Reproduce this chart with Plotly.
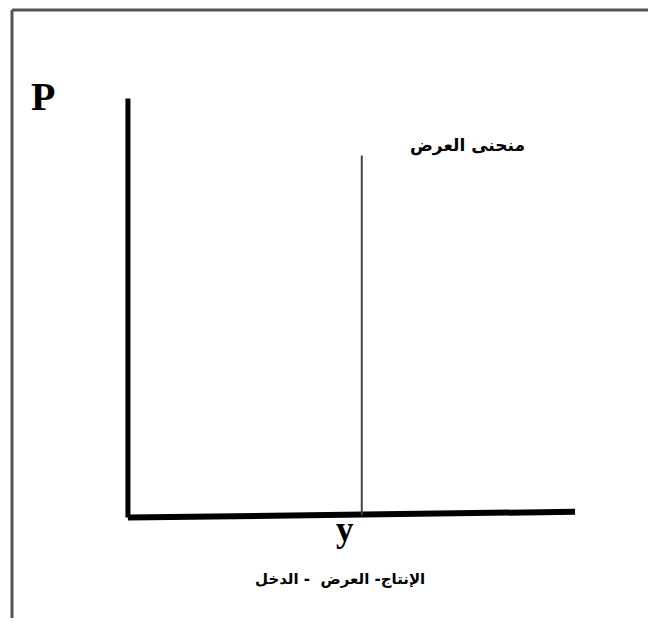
import plotly.graph_objects as go

# quantity / price in chart units (x: 0-10, y: 0-10)
price_axis_q = [0, 0]
price_axis_p = [0, 10]
qty_axis_q = [0, 10]
qty_axis_p = [0, 0.14]
supply_q = [5.23, 5.23]
supply_p = [0.07, 8.64]

supply_label = "منحنى العرض"
qty_label = "الإنتاج- العرض  - الدخل"
price_symbol = "P"
qty_symbol = "y"

# figure geometry (the page adds an 8px body margin on every side)
W, H = 640, 610
ML, MR, MT, MB = 111, 64, 82, 92
PAGE_OFF = 8


def paper(xp, yp):
    # page pixel -> paper coordinates
    fx = xp - PAGE_OFF
    fy = yp - PAGE_OFF
    return (fx - ML) / (W - ML - MR), (H - MB - fy) / (H - MT - MB)


fig = go.Figure()

# axes drawn as thick lines
fig.add_trace(go.Scatter(x=price_axis_q, y=price_axis_p, mode="lines",
                         line=dict(color="black", width=5), hoverinfo="skip"))
fig.add_trace(go.Scatter(x=qty_axis_q, y=qty_axis_p, mode="lines",
                         line=dict(color="black", width=6), hoverinfo="skip"))
# vertical supply curve
fig.add_trace(go.Scatter(x=supply_q, y=supply_p, mode="lines",
                         line=dict(color="#444", width=2), hoverinfo="skip"))

# outer frame (left + top edges only, like the cropped figure)
fx0, fy0 = paper(12, 10)
fx1, fy1 = paper(648, 618)
fig.add_shape(type="line", xref="paper", yref="paper",
              x0=fx0, x1=fx0, y0=fy1, y1=fy0,
              line=dict(color="#555", width=3))
fig.add_shape(type="line", xref="paper", yref="paper",
              x0=fx0, x1=fx1, y0=fy0, y1=fy0,
              line=dict(color="#555", width=3))

labels = [
    (f"<b>{price_symbol}</b>", 43, 96, "Liberation Serif", 40),
    (f"<b>{qty_symbol}</b>", 345, 529, "Liberation Serif", 35),
    (f"<b>{supply_label}</b>", 467, 145, "DejaVu Sans", 17),
    (f"<b>{qty_label}</b>", 340, 579, "DejaVu Sans", 15),
]
for text, xp, yp, family, size in labels:
    ax_, ay_ = paper(xp, yp)
    fig.add_annotation(x=ax_, y=ay_, xref="paper", yref="paper", text=text,
                       showarrow=False, xanchor="center", yanchor="middle",
                       font=dict(family=family, size=size, color="black"))

fig.update_xaxes(range=[-0.2, 10.2], visible=False, fixedrange=True)
fig.update_yaxes(range=[-0.2, 10.2], visible=False, fixedrange=True)
fig.update_layout(
    width=W, height=H,
    margin=dict(l=ML, r=MR, t=MT, b=MB),
    paper_bgcolor="white", plot_bgcolor="white",
    showlegend=False,
)
fig.write_html("out.html")
